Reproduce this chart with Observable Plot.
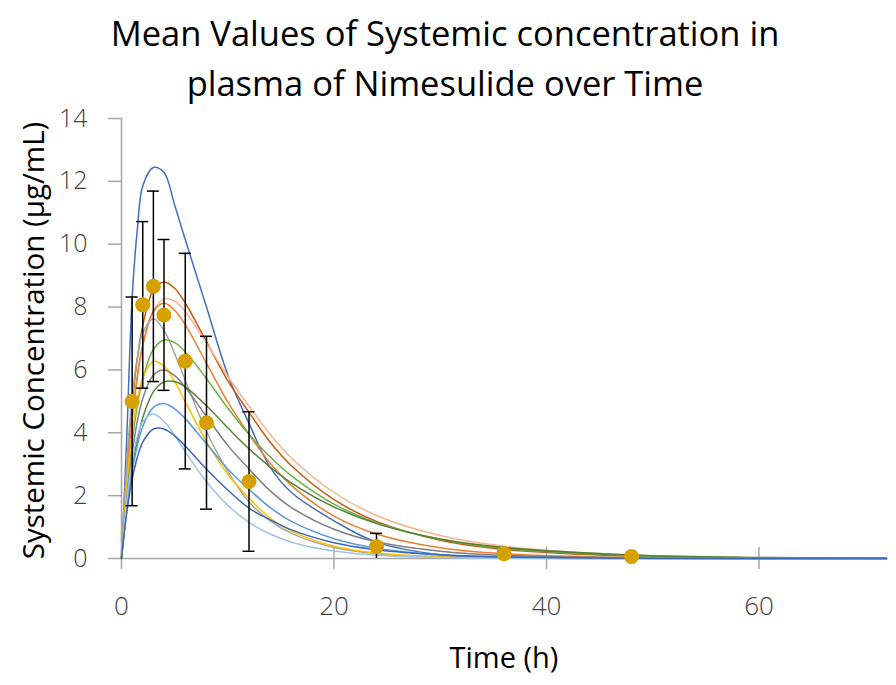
<!DOCTYPE html>
<html>
<head>
<meta charset="utf-8">
<script src="https://cdn.jsdelivr.net/npm/d3@7"></script>
<script src="https://cdn.jsdelivr.net/npm/@observablehq/plot@0.6"></script>
<style>
  html, body { margin: 0; padding: 0; background: #ffffff; }
  body { width: 896px; height: 685px; overflow: hidden; font-family: "Open Sans", "Noto Sans", sans-serif; }
  #title { width: 890px; height: 100px; box-sizing: border-box; padding-top: 8px; text-align: center;
           font-size: 34.5px; line-height: 50px; color: #000; font-weight: 400; }
  #chart svg { display: block; overflow: visible; }
</style>
</head>
<body>
<div id="title">
  <div>Mean Values of Systemic concentration in</div>
  <div>plasma of Nimesulide over Time</div>
</div>
<div id="chart"></div>
<script>
// ---- data ----
const times = [0, 0.5, 1, 1.5, 2, 3, 4, 5, 6, 8, 10, 12, 14, 16, 20, 24, 30, 36, 48, 60, 72];

const seriesNames = ["S1", "S2", "S3", "S4", "S5", "S6", "S7", "S8", "S9", "S10", "S11", "S12"];
const seriesColors = ["#4170C2", "#C55A11", "#F5B48E", "#ED7D31", "#A5A5A5", "#70AD47",
                      "#FFC000", "#7F7F7F", "#548235", "#5B9BD5", "#9DC3E6", "#3C66B8"];

const s1  = [0, 3.9, 8.3, 10.5, 11.85, 12.44, 12.28, 11.25, 10.15, 8.0, 5.85, 4.3, 2.9, 2.1, 1.2, 0.52, 0.12, 0.04, 0.01, 0, 0];
const s2  = [0, 2.82, 4.9, 6.38, 7.42, 8.54, 8.8, 8.6, 8.13, 6.9, 5.66, 4.65, 3.7, 2.95, 1.87, 1.18, 0.58, 0.29, 0.074, 0.018, 0.005];
const s3  = [0, 2.49, 4.37, 5.75, 6.74, 7.88, 8.26, 8.19, 7.86, 6.85, 5.8, 4.85, 3.95, 3.2, 2.1, 1.37, 0.73, 0.39, 0.11, 0.031, 0.009];
const s4  = [0, 2.55, 4.45, 5.83, 6.8, 7.86, 8.12, 7.9, 7.44, 6.21, 4.98, 3.95, 3.03, 2.32, 1.35, 0.78, 0.34, 0.15, 0.029, 0.006, 0.001];
const s5  = [0, 3.06, 5.11, 6.42, 7.18, 7.63, 7.26, 6.52, 5.67, 4.04, 2.77, 1.8, 1.2, 0.8, 0.35, 0.15, 0.044, 0.012, 0.001, 0, 0];
const s6  = [0, 2.13, 3.71, 4.88, 5.71, 6.65, 6.95, 6.87, 6.58, 5.72, 4.79, 3.95, 3.23, 2.63, 1.73, 1.14, 0.61, 0.32, 0.09, 0.026, 0.007];
const s7  = [0, 2.35, 3.98, 5.07, 5.75, 6.27, 6.12, 5.63, 4.99, 3.72, 2.68, 1.92, 1.28, 0.87, 0.39, 0.176, 0.054, 0.016, 0.0015, 0, 0];
const s8  = [0, 1.93, 3.35, 4.38, 5.09, 5.84, 6.0, 5.82, 5.45, 4.52, 3.6, 2.85, 2.15, 1.62, 0.93, 0.53, 0.23, 0.099, 0.018, 0.003, 0];
const s9  = [0, 1.62, 2.86, 3.79, 4.48, 5.3, 5.62, 5.63, 5.46, 4.86, 4.16, 3.49, 2.91, 2.4, 1.64, 1.11, 0.62, 0.35, 0.11, 0.034, 0.011];
const s10 = [0, 1.58, 2.76, 3.6, 4.2, 4.81, 4.93, 4.76, 4.45, 3.65, 2.85, 2.2, 1.62, 1.18, 0.63, 0.33, 0.125, 0.048, 0.007, 0.001, 0];
const s11 = [0, 1.87, 3.11, 3.9, 4.35, 4.6, 4.36, 3.92, 3.4, 2.44, 1.69, 1.15, 0.78, 0.52, 0.236, 0.106, 0.032, 0.0096, 0.001, 0, 0];
const s12 = [0, 1.47, 2.51, 3.23, 3.7, 4.12, 4.12, 3.9, 3.58, 2.84, 2.18, 1.6, 1.23, 0.91, 0.5, 0.276, 0.11, 0.046, 0.0075, 0.001, 0];

const meanTimes = [1, 2, 3, 4, 6, 8, 12, 24, 36, 48];
const meanValues = [5.0, 8.07, 8.66, 7.75, 6.28, 4.32, 2.45, 0.38, 0.15, 0.06];
const meanSD = [3.32, 2.65, 3.03, 2.4, 3.43, 2.75, 2.22, 0.42, 0.08, 0.03];

const xTicks = [0, 20, 40, 60];
const yTicks = [0, 2, 4, 6, 8, 10, 12, 14];

const xTitle = "Time (h)";
const yTitle = "Systemic Concentration (µg/mL)";

// ---- tables built from the arrays ----
const allSeries = [s1, s2, s3, s4, s5, s6, s7, s8, s9, s10, s11, s12];
const rows = [];
allSeries.forEach((vals, i) => vals.forEach((v, j) => rows.push({series: seriesNames[i], t: times[j], c: v})));
const means = meanTimes.map((t, i) => ({t, m: meanValues[i], sd: meanSD[i]}));

const axisGray = "#A6A6A6";
const textGray = "#404040";
const font = '"Open Sans", "Noto Sans", sans-serif';

const chart = Plot.plot({
  width: 896,
  height: 585,
  marginLeft: 121,
  marginRight: 10,
  marginTop: 18,
  marginBottom: 127,
  style: {fontFamily: font, background: "#ffffff", overflow: "visible"},
  x: {domain: [0, 72], axis: null},
  y: {domain: [0, 14], axis: null},
  color: {domain: seriesNames, range: seriesColors},
  marks: [
    // axis lines
    Plot.ruleX([0], {stroke: axisGray, strokeWidth: 1.5}),
    Plot.ruleY([0], {stroke: axisGray, strokeWidth: 1.5}),
    // y ticks (outside)
    Plot.ruleY(yTicks, {y: d => d, x1: 0, x2: 0, insetLeft: -13, stroke: axisGray, strokeWidth: 1.5}),
    // x ticks (cross)
    Plot.ruleX(xTicks, {x: d => d, y1: 0, y2: 0, insetTop: -11, insetBottom: -11, stroke: axisGray, strokeWidth: 1.5}),
    // tick labels
    Plot.text(yTicks, {x: 0, y: d => d, text: d => String(d), textAnchor: "end", dx: -34,
                       fontSize: 25, fill: textGray, fontWeight: 300}),
    Plot.text(xTicks, {x: d => d, y: 0, text: d => String(d), lineAnchor: "top", dy: 38,
                       fontSize: 26, fill: textGray, fontWeight: 300}),
    // axis titles
    Plot.text([yTitle], {frameAnchor: "left", textAnchor: "middle", lineAnchor: "middle", rotate: -90,
                         dx: -87, dy: 2, fontSize: 29.5, fill: "#000"}),
    Plot.text([xTitle], {frameAnchor: "bottom", lineAnchor: "middle", dy: 100, fontSize: 29, fill: "#000"}),
    // model curves
    Plot.lineY(rows, {x: "t", y: "c", z: "series", stroke: "series", strokeWidth: 1.5, curve: "catmull-rom"}),
    // error bars
    Plot.ruleX(means, {x: "t", y1: d => Math.max(0, d.m - d.sd), y2: d => d.m + d.sd, stroke: "#000", strokeWidth: 1.5}),
    Plot.ruleY(means, {y: d => d.m + d.sd, x1: "t", x2: "t", insetLeft: -6, insetRight: -6, stroke: "#000", strokeWidth: 1.5}),
    Plot.ruleY(means.filter(d => d.m - d.sd > 0), {y: d => d.m - d.sd, x1: "t", x2: "t", insetLeft: -6, insetRight: -6, stroke: "#000", strokeWidth: 1.5}),
    // mean points
    Plot.dot(means, {x: "t", y: "m", r: 7.5, fill: "#D5A000", stroke: "none"})
  ]
});
document.getElementById("chart").appendChild(chart);
</script>
</body>
</html>
